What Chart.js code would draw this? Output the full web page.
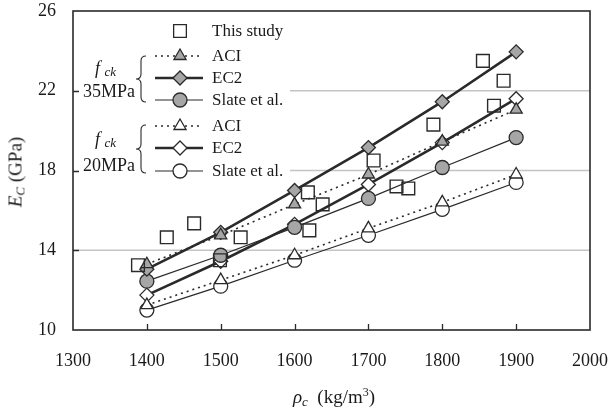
<!DOCTYPE html>
<html><head><meta charset="utf-8">
<script src="https://cdn.jsdelivr.net/npm/chart.js@4/dist/chart.umd.min.js"></script>
<style>
body{margin:0;background:#fff;}
#wrap{position:relative;width:608px;height:416px;font-family:"Liberation Serif","Times New Roman",serif;color:#1a1a1a;overflow:hidden;}
canvas{position:absolute;left:0;top:0;}
.t{position:absolute;white-space:nowrap;font-size:17px;line-height:17px;}
.c{transform:translate(-50%,-50%);}
</style></head><body>
<div id="wrap"><canvas id="c" width="608" height="416"></canvas>
<div class="t" style="left:212px;top:22px">This study</div>
<div class="t" style="left:212px;top:47px">ACI</div>
<div class="t" style="left:212px;top:69px">EC2</div>
<div class="t" style="left:212px;top:91px">Slate et al.</div>
<div class="t" style="left:212px;top:117px">ACI</div>
<div class="t" style="left:212px;top:139px">EC2</div>
<div class="t" style="left:212px;top:162px">Slate et al.</div>
<div class="t" style="left:95px;top:60px;font-size:18px"><i>f</i>&nbsp;<i style="font-size:13px;position:relative;top:2px">ck</i></div>
<div class="t" style="left:83px;top:83px;font-size:18px">35MPa</div>
<div class="t" style="left:95px;top:131px;font-size:18px"><i>f</i>&nbsp;<i style="font-size:13px;position:relative;top:2px">ck</i></div>
<div class="t" style="left:83px;top:157px;font-size:18px">20MPa</div>
<div class="t" style="left:16px;top:172px;font-size:19px;line-height:19px;transform:translate(-50%,-50%) rotate(-90deg)"><i>E</i><i style="font-size:13px;position:relative;top:3px">C</i> (GPa)</div>
<div class="t c" style="left:334px;top:398px;font-size:19px;line-height:19px"><i>ρ</i><i style="font-size:13px;position:relative;top:3px">c</i>&nbsp; (kg/m<span style="font-size:12px;position:relative;top:-7px">3</span>)</div>
</div>
<script>
// ---- data ----
const densities = [1400, 1500, 1600, 1700, 1800, 1900];
const aci35   = [13.3, 14.75, 16.3, 17.8, 19.45, 21.05];
const ec2_35  = [13.05, 14.9, 17.0, 19.15, 21.45, 23.95];
const slate35 = [12.45, 13.75, 15.15, 16.6, 18.15, 19.65];
const aci20   = [11.25, 12.5, 13.75, 15.1, 16.4, 17.8];
const ec2_20  = [11.75, 13.45, 15.3, 17.3, 19.4, 21.6];
const slate20 = [11.0, 12.2, 13.5, 14.75, 16.05, 17.4];
const studyRho = [1388, 1427, 1464, 1499, 1527, 1618, 1620, 1638, 1707, 1738, 1754, 1788, 1855, 1870, 1883];
const studyEc  = [13.25, 14.65, 15.35, 13.5, 14.65, 16.9, 15.0, 16.3, 18.5, 17.2, 17.1, 20.3, 23.5, 21.25, 22.5];
const xTicks = [1300, 1400, 1500, 1600, 1700, 1800, 1900, 2000];
const yTicks = [10, 14, 18, 22, 26];

const GRAY = '#a6a6a6', INK = '#2a2a2a', CLEAR = 'rgba(0,0,0,0)';
const pts = (xs, ys) => xs.map((x, i) => ({x, y: ys[i]}));

function series(label, ys, fill, style, lw, dash) {
  return {label, data: pts(densities, ys), showLine: true, tension: 0,
    borderColor: INK, borderWidth: lw, borderDash: dash || [],
    pointStyle: style, pointRadius: 7, pointHoverRadius: 7,
    pointBackgroundColor: fill, pointBorderColor: INK, pointBorderWidth: 1.3};
}

const datasets = [
  {label: 'This study', data: pts(studyRho, studyEc), showLine: false,
   pointStyle: 'rect', pointRadius: 9, pointHoverRadius: 9,
   pointBackgroundColor: CLEAR, pointBorderColor: INK, pointBorderWidth: 1.4},
  series('ACI 35MPa', aci35, GRAY, 'triangle', 1.6, [2, 4]),
  series('EC2 35MPa', ec2_35, GRAY, 'rectRot', 2.6),
  series('Slate 35MPa', slate35, GRAY, 'circle', 1.2),
  series('ACI 20MPa', aci20, '#fff', 'triangle', 1.6, [2, 4]),
  series('EC2 20MPa', ec2_20, '#fff', 'rectRot', 2.6),
  series('Slate 20MPa', slate20, '#fff', 'circle', 1.2)
];

function marker(ctx, style, r, x, y, fill) {
  ctx.save();
  ctx.fillStyle = fill; ctx.strokeStyle = INK; ctx.lineWidth = 1.3; ctx.setLineDash([]);
  Chart.helpers.drawPoint(ctx, {pointStyle: style, radius: r, rotation: 0, borderWidth: 1.3}, x, y);
  ctx.restore();
}

function brace(ctx, x, y0, y1) {
  const m = (y0 + y1) / 2;
  ctx.beginPath();
  ctx.moveTo(x + 6, y0);
  ctx.quadraticCurveTo(x + 1, y0, x + 1, y0 + 5);
  ctx.lineTo(x + 1, m - 5);
  ctx.quadraticCurveTo(x + 1, m, x - 4, m);
  ctx.quadraticCurveTo(x + 1, m, x + 1, m + 5);
  ctx.lineTo(x + 1, y1 - 5);
  ctx.quadraticCurveTo(x + 1, y1, x + 6, y1);
  ctx.stroke();
}

const frame = {
  id: 'frame',
  beforeDatasetsDraw(chart) {
    const {ctx, scales: {x, y}} = chart;
    const L = x.getPixelForValue(1300), R = x.getPixelForValue(2000);
    const T = y.getPixelForValue(26), B = y.getPixelForValue(10);
    ctx.save();
    // horizontal gridlines
    ctx.strokeStyle = '#c4c4c4'; ctx.lineWidth = 1.5;
    ctx.beginPath();
    yTicks.slice(1, -1).forEach(v => { const py = y.getPixelForValue(v); ctx.moveTo(L, py); ctx.lineTo(R, py); });
    ctx.stroke();
    // legend background
    ctx.fillStyle = '#fff';
    ctx.fillRect(L + 1, T + 1, 216, 175);
    // inward ticks
    ctx.strokeStyle = INK; ctx.lineWidth = 1.3;
    ctx.beginPath();
    xTicks.slice(1, -1).forEach(v => { const px = Math.round(x.getPixelForValue(v)) + 0.5; ctx.moveTo(px, B); ctx.lineTo(px, B - 6); });
    yTicks.slice(1, -1).forEach(v => { const py = Math.round(y.getPixelForValue(v)) + 0.5; ctx.moveTo(L, py); ctx.lineTo(L + 6, py); });
    ctx.stroke();
    // frame
    ctx.lineWidth = 1.6;
    ctx.strokeRect(L, T, R - L, B - T);
    // legend samples
    const x0 = 155, x1 = 203, xm = 180;
    const rows = [
      [31, null, 0, 'rect', 9, '#fff'],
      [56, [2, 4], 1.6, 'triangle', 7, GRAY],
      [78, [], 2.6, 'rectRot', 7, GRAY],
      [100, [], 1.2, 'circle', 7, GRAY],
      [126, [2, 4], 1.6, 'triangle', 7, '#fff'],
      [148, [], 2.6, 'rectRot', 7, '#fff'],
      [171, [], 1.2, 'circle', 7, '#fff']
    ];
    rows.forEach(([ry, dash, lw, st, r, fill]) => {
      if (dash) {
        ctx.save(); ctx.setLineDash(dash); ctx.lineWidth = lw; ctx.strokeStyle = INK;
        ctx.beginPath(); ctx.moveTo(x0, ry); ctx.lineTo(x1, ry); ctx.stroke(); ctx.restore();
      }
      marker(ctx, st, r, xm, ry, fill);
    });
    ctx.lineWidth = 1.1; ctx.strokeStyle = INK; ctx.setLineDash([]);
    brace(ctx, 140, 56, 102);
    brace(ctx, 140, 125, 173);
    ctx.restore();
  }
};

new Chart(document.getElementById('c'), {
  type: 'scatter',
  data: {datasets},
  options: {
    responsive: false, animation: false, devicePixelRatio: 1,
    layout: {padding: {left: 0, top: 11, right: 18, bottom: 0}},
    plugins: {legend: {display: false}, tooltip: {enabled: false}},
    scales: {
      x: {type: 'linear', min: 1300, max: 2000,
        afterBuildTicks: s => { s.ticks = xTicks.map(v => ({value: v})); },
        afterFit: s => { s.height = 86; },
        grid: {display: true, color: CLEAR, drawTicks: true, tickLength: 20, tickColor: CLEAR}, border: {display: false},
        ticks: {padding: 0, color: '#1a1a1a', font: {family: 'Liberation Serif', size: 18}, maxRotation: 0,
          callback: v => String(v)}},
      y: {type: 'linear', min: 10, max: 26,
        afterBuildTicks: s => { s.ticks = yTicks.map(v => ({value: v})); },
        afterFit: s => { s.width = 73; },
        grid: {display: true, color: CLEAR, drawTicks: true, tickLength: 17, tickColor: CLEAR},
        border: {display: false},
        ticks: {padding: 0, color: '#1a1a1a', font: {family: 'Liberation Serif', size: 18}, callback: v => String(v)}}
    }
  },
  plugins: [frame]
});
</script>
</body></html>
